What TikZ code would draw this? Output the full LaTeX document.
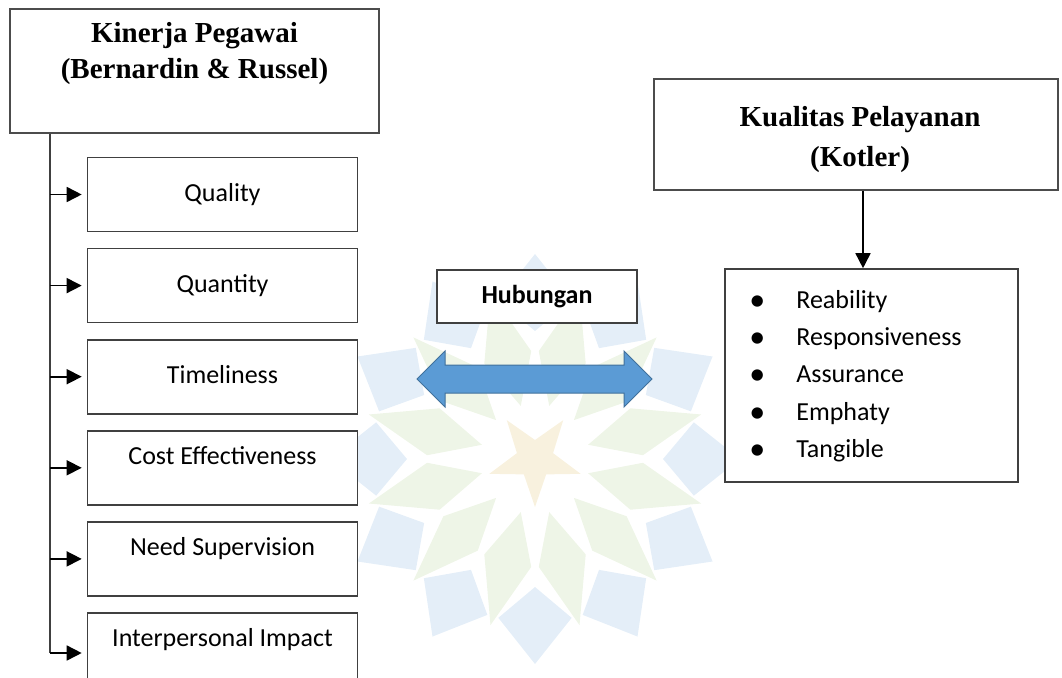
\documentclass[tikz,border=0pt]{standalone}
\usepackage{fontspec}
\setmainfont{Liberation Serif}
\newfontfamily\calibri{Carlito}
\usetikzlibrary{positioning, arrows.meta}

\definecolor{linkblue}{RGB}{91,155,213}
\definecolor{linkedge}{RGB}{65,113,156}
\definecolor{markblue}{RGB}{228,238,248}
\definecolor{markgreen}{RGB}{238,245,231}
\definecolor{markstar}{RGB}{248,241,222}

\newcommand{\bigdot}{\raisebox{-2pt}{\fontsize{32}{32}\selectfont\textbullet}}

\begin{document}
\begin{tikzpicture}[x=1pt, y=-1pt,
  headbox/.style={rectangle, draw=black!70, fill=white, line width=1.8pt},
  headtext/.style={font=\fontsize{29}{36}\selectfont\bfseries, align=center, inner sep=0pt},
  itembox/.style={rectangle, draw=black!75, fill=white, line width=1.6pt, minimum width=270pt, minimum height=74pt, inner sep=0pt, font=\calibri\fontsize{26}{30}\selectfont, text height=19pt, text depth=6pt},
  lowtext/.style={text depth=26pt},
  branch/.style={-{Triangle[length=15pt, width=15pt]}, line width=1.6pt},
  trunkline/.style={line width=1.8pt, black!75}
]
\useasboundingbox (0,0) rectangle (1062,677);
\clip (0,0) rectangle (1062,677);

% watermark
\begin{scope}[shift={(535,459)}]
  \foreach \a in {0,30,...,330} {
    \fill[markblue] (\a:205) -- (\a+13:163) -- (\a:128) -- (\a-13:163) -- cycle;
    \fill[markgreen] (\a+15:172) -- (\a+28:108) -- (\a+15:55) -- (\a+2:108) -- cycle;
  }
  \fill[markstar] (90:48) \foreach \k in {1,...,9} { -- (90+36*\k:{ifthenelse(isodd(\k),19,48)}) } -- cycle;
\end{scope}

% left side
\node[headbox, minimum width=369pt, minimum height=124pt] (kinerja) at (194.5,71) {};
\node[headtext] (kinerjatext) at ([yshift=17pt]kinerja.center) {Kinerja Pegawai\\(Bernardin \& Russel)};

\node[itembox] (quality) at (222.5,194.5) {Quality};
\node[itembox, below=15.5pt of quality] (quantity) {Quantity};
\node[itembox, below=15.5pt of quantity] (timeliness) {Timeliness};
\node[itembox, lowtext, below=15.5pt of timeliness] (cost) {Cost Effectiveness};
\node[itembox, lowtext, below=15.5pt of cost] (supervision) {Need Supervision};
\node[itembox, lowtext, below=15.5pt of supervision] (impact) {Interpersonal Impact};

\coordinate (trunk) at ([xshift=41pt]kinerja.south west);
\draw[trunkline] (trunk) -- ([yshift=-3pt]trunk |- impact.west);
\draw[branch] (trunk |- quality.west) -- ([xshift=-5pt]quality.west);
\draw[branch] (trunk |- quantity.west) -- ([xshift=-5pt]quantity.west);
\draw[branch] (trunk |- timeliness.west) -- ([xshift=-5pt]timeliness.west);
\draw[branch] (trunk |- cost.west) -- ([xshift=-5pt]cost.west);
\draw[branch] (trunk |- supervision.west) -- ([xshift=-5pt]supervision.west);
\draw[branch] ([yshift=-3pt]trunk |- impact.west) -- ([xshift=-5pt, yshift=-3pt]impact.west);

% middle
\node[rectangle, draw=black!75, fill=white, line width=1.6pt, minimum width=200pt, minimum height=53pt, font=\calibri\bfseries\fontsize{26}{30}\selectfont] (hubungan) at (537,296.5) {Hubungan};
\coordinate (link) at ([xshift=-2.5pt, yshift=-82.5pt]hubungan.center);
\filldraw[fill=linkblue, draw=linkedge, line width=1pt] (link) ++(-117.5,0) -- ++(28,-28) -- ++(0,14) -- ++(179,0) -- ++(0,-14) -- ++(28,28) -- ++(-28,28) -- ++(0,-14) -- ++(-179,0) -- ++(0,14) -- cycle;

% right side
\node[headbox, minimum width=404pt, minimum height=111pt] (kotler) at (856,134.5) {};
\node[headtext, font=\fontsize{29}{40}\selectfont\bfseries] (kotlertext) at ([xshift=4pt, yshift=-5.5pt]kotler.center) {Kualitas Pelayanan\\(Kotler)};

\node[rectangle, draw=black!75, fill=white, line width=1.6pt, minimum width=293pt, minimum height=213pt, inner sep=0pt, font=\calibri\fontsize{26}{37.25}\selectfont] (dimensi) at (871.5,375.5) {%
  \begin{tabular}{@{}l@{\hspace{31pt}}l@{\hspace{32pt}}}
    \bigdot & Reability\\
    \bigdot & Responsiveness\\
    \bigdot & Assurance\\
    \bigdot & Emphaty\\
    \bigdot & Tangible
  \end{tabular}};

\draw[branch] ([xshift=7pt]kotler.south) -- ([xshift=7pt]kotler.south |- dimensi.north);

\end{tikzpicture}
\end{document}
